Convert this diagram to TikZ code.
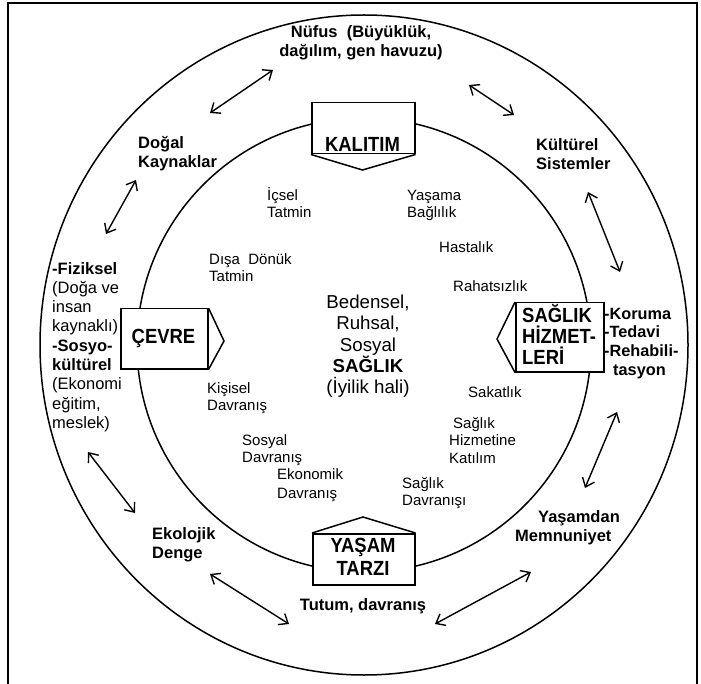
\documentclass[tikz,border=0pt]{standalone}
\usepackage{fontspec}
\setmainfont{Liberation Sans}
\newfontfamily\tagfont{Liberation Sans}[FakeStretch=0.9]
\usetikzlibrary{arrows.meta}
\begin{document}
\begin{tikzpicture}[x=1pt,y=-1pt,
  ring/.style={line width=1.5pt},
  tagbox/.style={draw, line width=1.5pt, fill=white, inner sep=0pt},
  tagtip/.style={line width=1.5pt, line join=miter},
  barb/.tip={Straight Barb[length=8pt,width=13pt]},
  twoway/.style={line width=1.4pt, barb-barb},
  boxtitle/.style={font=\tagfont\fontsize{20.5}{21}\selectfont\bfseries, inner sep=0pt, align=left},
  ringtext/.style={font=\fontsize{16.5}{19}\selectfont\bfseries, inner sep=0pt, align=left},
  plain/.style={font=\fontsize{15}{17.5}\selectfont, inner sep=0pt, align=left},
]
\useasboundingbox (0,0) rectangle (701,684);

% frame
\draw[line width=1.2pt] (8,3) rectangle (697,700);

% the two rings
\draw[ring] (364,345) ellipse [x radius=324pt, y radius=330pt];
\draw[ring] (364,345) circle [radius=227pt];

% KALITIM tag, pointing down
\node[tagbox, anchor=north west, minimum width=103pt, minimum height=51pt] (kal) at (311,102) {};
\draw[tagtip] (kal.south west) -- (362.5,170) -- (kal.south east);
\node[boxtitle, anchor=base] (kaltxt) at (362.5,151.5) {KALITIM};

% ÇEVRE tag, pointing right
\node[tagbox, anchor=north west, minimum width=87pt, minimum height=60pt] (cev) at (120,308) {};
\draw[tagtip] (cev.north east) -- (224,341) -- (cev.south east);
\node[boxtitle, anchor=base] (cevtxt) at (163.5,344) {ÇEVRE};

% SAĞLIK HİZMETLERİ tag, pointing left
\node[tagbox, anchor=north west, minimum width=88pt, minimum height=69pt] (hiz) at (515,302) {};
\draw[tagtip] (hiz.north west) -- (497,339) -- (hiz.south west);
\node[boxtitle, anchor=base west] (hiztxt) at (522,364.5) {SAĞLIK\\HİZMET-\\LERİ};

% YAŞAM TARZI tag, pointing up
\node[tagbox, anchor=north west, minimum width=102pt, minimum height=51pt] (yas) at (312,533) {};
\draw[tagtip] (yas.north west) -- (363,517) -- (yas.north east);
\node[boxtitle, font=\tagfont\fontsize{20.5}{22.5}\selectfont\bfseries, anchor=base, align=center] (yastxt) at (363,575) {YAŞAM\\TARZI};

% texts between the rings (anchors sit on the last baseline)
\node[ringtext, anchor=base, align=center] (nufus) at (361,57) {Nüfus~ (Büyüklük,\\dağılım, gen havuzu)};
\node[ringtext, anchor=base west] (dogal) at (138,168) {Doğal\\Kaynaklar};
\node[ringtext, anchor=base west] (kultur) at (536,170) {Kültürel\\Sistemler};
\node[ringtext, anchor=base west] (ekoloji) at (152,558) {Ekolojik\\Denge};
\node[ringtext, anchor=base west] (memnun) at (515,541) {\hspace*{23pt}Yaşamdan\\Memnuniyet};
\node[ringtext, anchor=base] (tutum) at (363,610) {Tutum, davranış};
\node[ringtext, font=\fontsize{16.5}{19.3}\selectfont, anchor=base west] (cevre) at (52,428.4)
  {\textbf{-Fiziksel}\\(Doğa ve\\insan\\kaynaklı)\\\textbf{-Sosyo-}\\\textbf{kültürel}\\(Ekonomi\\eğitim,\\meslek)};
\node[ringtext, font=\fontsize{16.3}{18.7}\selectfont\bfseries, anchor=base west] (hizmet) at (604,375.1)
  {-Koruma\\-Tedavi\\-Rehabili-\\\hspace*{9pt}tasyon};

% texts inside the inner ring
\node[plain, anchor=base west] (icsel) at (267,217.9) {İçsel\\Tatmin};
\node[plain, anchor=base west] (yasama) at (407,217.9) {Yaşama\\Bağlılık};
\node[plain, anchor=base west] (hastalik) at (439,252.4) {Hastalık};
\node[plain, anchor=base west] (disa) at (209,281.9) {Dışa~ Dönük\\Tatmin};
\node[plain, anchor=base west] (rahat) at (453,291.4) {Rahatsızlık};
\node[plain, anchor=base west] (kisisel) at (207,410.9) {Kişisel\\Davranış};
\node[plain, anchor=base west] (sakat) at (468,397.4) {Sakatlık};
\node[plain, anchor=base west] (katilim) at (449,463.4) {\hspace*{4pt}Sağlık\\Hizmetine\\Katılım};
\node[plain, anchor=base west] (sosyal) at (242,462.9) {Sosyal\\Davranış};
\node[plain, font=\fontsize{15}{19}\selectfont, anchor=base west] (ekonomik) at (277,498.4) {Ekonomik\\Davranış};
\node[plain, anchor=base west] (sagdav) at (402,505.9) {Sağlık\\Davranışı};
\node[font=\fontsize{18.7}{21.2}\selectfont, inner sep=0pt, align=center, anchor=base] (merkez) at (368,393.5)
  {Bedensel,\\Ruhsal,\\Sosyal\\\textbf{SAĞLIK}\\(İyilik hali)};

% two-way arrows around the outer ring
\coordinate (a1) at (210,113); \coordinate (a2) at (273,70);
\coordinate (b1) at (469,85);  \coordinate (b2) at (514,115);
\coordinate (c1) at (136,180); \coordinate (c2) at (106,234);
\coordinate (d1) at (588,192); \coordinate (d2) at (620,272);
\coordinate (e1) at (88,452);  \coordinate (e2) at (135,513);
\coordinate (f1) at (617,412); \coordinate (f2) at (585,488);
\coordinate (g1) at (210,574); \coordinate (g2) at (289,624);
\coordinate (h1) at (435,624); \coordinate (h2) at (531,572);
\draw[twoway] (a1) -- (a2);
\draw[twoway] (b1) -- (b2);
\draw[twoway] (c1) -- (c2);
\draw[twoway] (d1) -- (d2);
\draw[twoway] (e1) -- (e2);
\draw[twoway] (f1) -- (f2);
\draw[twoway] (g1) -- (g2);
\draw[twoway] (h1) -- (h2);
\end{tikzpicture}
\end{document}
